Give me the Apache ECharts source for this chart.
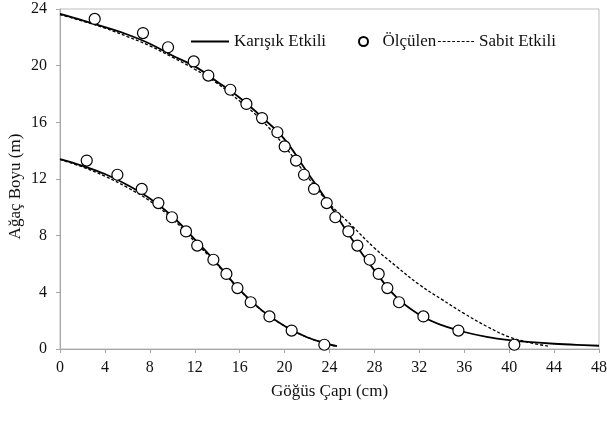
<!DOCTYPE html>
<html>
<head>
<meta charset="utf-8">
<script src="https://cdn.jsdelivr.net/npm/echarts@6/dist/echarts.min.js"></script>
<style>
  html, body { margin: 0; padding: 0; background: #fff; }
  #chart { width: 607px; height: 423px; }
</style>
</head>
<body>
<div id="chart"></div>
<script>
// Measured tree heights (m) against breast-height diameter (cm), two trees
const measuredUpperX = [3.09, 7.39, 9.62, 11.91, 13.21, 15.17, 16.6, 17.99, 19.36, 20.01, 21.02, 21.73, 22.62, 23.75, 24.52, 25.68, 26.48, 27.58, 28.38, 29.15, 30.19, 32.36, 35.48, 40.46];
const measuredUpperY = [23.3, 22.3, 21.3, 20.3, 19.3, 18.3, 17.3, 16.3, 15.3, 14.3, 13.3, 12.3, 11.3, 10.3, 9.3, 8.3, 7.3, 6.3, 5.3, 4.3, 3.3, 2.3, 1.3, 0.3];
const measuredLowerX = [2.38, 5.11, 7.28, 8.76, 9.97, 11.22, 12.22, 13.66, 14.82, 15.8, 16.98, 18.65, 20.63, 23.54];
const measuredLowerY = [13.3, 12.3, 11.3, 10.3, 9.3, 8.3, 7.3, 6.3, 5.3, 4.3, 3.3, 2.3, 1.3, 0.3];

// Model curves, heights read every 2 cm of diameter
const curveX = [0, 2, 4, 6, 8, 10, 12, 14, 16, 18, 20, 22, 24, 26, 28, 30, 32, 34, 36, 38, 40, 42, 44, 46, 48];
// Mixed-effects model (Karışık Etkili)
const mixedUpperY = [23.65, 23.2, 22.72, 22.2, 21.55, 20.72, 19.95, 18.87, 17.73, 16.35, 14.8, 12.5, 10.2, 7.75, 5.55, 3.62, 2.42, 1.68, 1.2, 0.86, 0.63, 0.48, 0.37, 0.29, 0.23];
const mixedLowerY = [13.4, 12.93, 12.35, 11.58, 10.63, 9.37, 7.74, 6.03, 4.17, 2.71, 1.63, 0.83, 0.32];
const mixedLowerEnd = [24.67, 0.2];
// Fixed-effects model (Sabit Etkili)
const fixedUpperY = [23.61, 23.15, 22.65, 22.05, 21.4, 20.6, 19.75, 18.75, 17.5, 16.12, 14.32, 12.2, 10.25, 8.7, 7.13, 5.8, 4.54, 3.5, 2.5, 1.6, 0.85, 0.42];
const fixedUpperEnd = [43.45, 0.21];
const fixedLowerY = [13.38, 12.85, 12.2, 11.4, 10.45, 9.2, 7.58, 5.95, 4.15, 2.7, 1.62, 0.83, 0.33];
const fixedLowerEnd = [24.46, 0.21];

const FONT = 'Liberation Serif';
const AXIS_GREY = '#a6a6a6';
const TEXT_COLOR = '#111';

function zipPoints(xs, ys) {
  return ys.map((y, i) => [xs[i], y]);
}
const measured = zipPoints(measuredUpperX, measuredUpperY).concat(zipPoints(measuredLowerX, measuredLowerY));

const solidStyle = { color: '#000', width: 1.8, type: 'solid' };
const dashStyle = { color: '#000', width: 1.3, type: [3, 2] };

function curve(name, data, lineStyle) {
  return {
    name: name, type: 'line', data: data,
    smooth: 0.4,
    symbol: 'none', lineStyle: lineStyle,
    itemStyle: { color: '#000' },
    silent: true, animation: false, z: 2
  };
}

// Legend glyphs: a plain stroke and a short-dash stroke
const solidIcon = 'path://M0,0H38V1.8H0Z';
let dashPath = 'path://';
for (let x = 0; x < 38; x += 5) dashPath += 'M' + x + ',0h3v1.3h-3z';

const legendText = { fontFamily: FONT, fontSize: 17, color: TEXT_COLOR };

const option = {
  backgroundColor: '#fff',
  animation: false,
  grid: {
    left: 60, right: 8, top: 9, bottom: 74,
    outerBoundsMode: 'none',
    show: true, borderColor: '#bdbdbd', borderWidth: 1
  },
  legend: [
    { data: [{ name: 'Karışık Etkili', icon: solidIcon }], left: 191, top: 33, padding: 0, itemWidth: 38, itemHeight: 10, textStyle: legendText },
    { data: ['Ölçülen'], left: 358, top: 33, padding: 0, itemWidth: 28, itemHeight: 9, textStyle: legendText },
    { data: [{ name: 'Sabit Etkili', icon: dashPath }], left: 438, top: 33, padding: 0, itemWidth: 36, itemHeight: 10, textStyle: legendText }
  ],
  xAxis: {
    type: 'value', min: 0, max: 48, interval: 4,
    name: 'Göğüs Çapı (cm)', nameLocation: 'middle', nameGap: 34, nameMoveOverlap: false,
    nameTextStyle: { fontFamily: FONT, fontSize: 17, color: TEXT_COLOR },
    axisLine: { lineStyle: { color: AXIS_GREY, width: 1 } },
    axisTick: { show: true, length: 4, lineStyle: { color: AXIS_GREY } },
    axisLabel: { fontFamily: FONT, fontSize: 16, color: TEXT_COLOR, margin: 11 },
    splitLine: { show: false }
  },
  yAxis: {
    type: 'value', min: 0, max: 24, interval: 4,
    name: 'Ağaç Boyu (m)', nameLocation: 'middle', nameGap: 36, nameMoveOverlap: false,
    nameTextStyle: { fontFamily: FONT, fontSize: 17, color: TEXT_COLOR, padding: [0, 15, 0, 0] },
    axisLine: { show: true, lineStyle: { color: AXIS_GREY, width: 1 } },
    axisTick: { show: true, length: 4, lineStyle: { color: AXIS_GREY } },
    axisLabel: { fontFamily: FONT, fontSize: 16, color: TEXT_COLOR, margin: 13 },
    splitLine: { show: false }
  },
  series: [
    curve('Karışık Etkili', zipPoints(curveX, mixedUpperY), solidStyle),
    curve('Karışık Etkili', zipPoints(curveX, mixedLowerY).concat([mixedLowerEnd]), solidStyle),
    curve('Sabit Etkili', zipPoints(curveX, fixedUpperY).concat([fixedUpperEnd]), dashStyle),
    curve('Sabit Etkili', zipPoints(curveX, fixedLowerY).concat([fixedLowerEnd]), dashStyle),
    {
      name: 'Ölçülen', type: 'scatter', data: measured,
      symbol: 'circle', symbolSize: 11,
      itemStyle: { color: '#fff', borderColor: '#000', borderWidth: 1.2, opacity: 1 },
      z: 3, animation: false
    }
  ]
};

const chart = echarts.init(document.getElementById('chart'), null, { renderer: 'canvas' });
chart.setOption(option);
</script>
</body>
</html>
